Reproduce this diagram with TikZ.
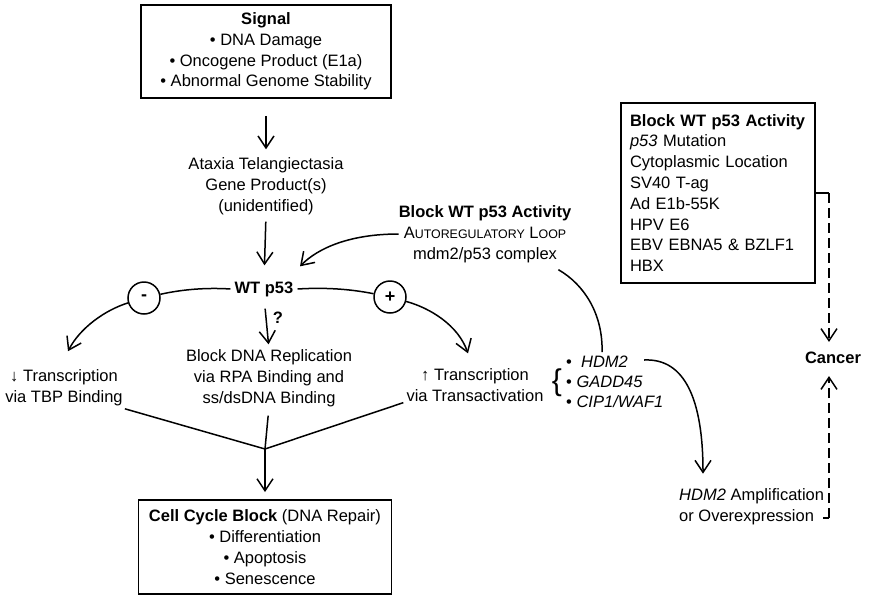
\documentclass[tikz,border=0pt]{standalone}
\usepackage{fontspec}
\setmainfont{Liberation Sans}
\usetikzlibrary{arrows.meta}
\newcommand{\fsc}[1]{{\fontsize{12.4}{12.4}\selectfont #1}}
\begin{document}
\begin{tikzpicture}[x=1pt,y=-1pt,
  every node/.style={font=\fontsize{16.5}{20.8}\selectfont, inner sep=0pt, align=center},
  box/.style={draw, line width=1.8pt},
  conn/.style={line width=1.5pt},
  arr/.style={conn, -{Straight Barb[length=12pt,width=16pt,line width=1.5pt]}},
  dsh/.style={dash pattern=on 10pt off 5pt},
  sign/.style={draw, circle, line width=1.5pt, minimum size=32pt, font=\fontsize{18}{18}\selectfont\bfseries},
  bold/.style={font=\fontsize{16.5}{20.8}\selectfont\bfseries}]
\useasboundingbox (0,0) rectangle (869,597);

% nodes
\node[box, minimum width=250pt, minimum height=93pt] (signal) at (266,51.5)
  {\textbf{Signal}\\• DNA Damage\\• Oncogene Product (E1a)\\• Abnormal Genome Stability};
\node (ataxia) at (266,186) {Ataxia Telangiectasia\\Gene Product(s)\\(unidentified)};
\node[bold] (wt) at (264,289) {WT p53};
\node[sign] (minus) at (144,298) {-};
\node[sign] (plus) at (390,297) {+};
\node[bold] (q) at (278,318) {?};
\node (leftT) at (64,387.5) {↓ Transcription\\via TBP Binding};
\node (midT) at (269,378) {Block DNA Replication\\via RPA Binding and\\ss/dsDNA Binding};
\node (rightT) at (475,385) {↑ Transcription\\via Transactivation};
\node (blockmid) at (485,234) {\textbf{Block WT p53 Activity}\\A\fsc{UTOREGULATORY} L\fsc{OOP}\\mdm2/p53 complex};
\node[font=\fontsize{30}{30}\selectfont] (brace) at (557,383) {\{};
\node[anchor=west] (hdm2) at (566,362) {•\ \ \textit{HDM2}};
\node[anchor=west] (gadd) at (566,382) {• \textit{GADD45}};
\node[anchor=west] (cip) at (566,402) {• \textit{CIP1/WAF1}};
\node[box, text width=176pt, align=left, inner xsep=9pt, minimum height=180pt] (rbox) at (718,193)
  {\textbf{Block WT p53 Activity}\\\textit{p53} Mutation\\Cytoplasmic Location\\SV40 T-ag\\Ad E1b-55K\\HPV E6\\EBV EBNA5 \& BZLF1\\HBX};
\node[bold] (cancer) at (833,358) {Cancer};
\node[anchor=west, align=left] (hdmamp) at (679,507) {\textit{HDM2} Amplification\\or Overexpression};
\node[box, minimum width=253pt, minimum height=94pt] (cell) at (265,547)
  {\textbf{Cell Cycle Block} (DNA Repair)\\• Differentiation\\• Apoptosis\\• Senescence};

\coordinate (j) at (265,449);
\coordinate (c1) at (829,193);
\coordinate (c2) at (829,518);

% connectors
\draw[arr, shorten <=17pt, shorten >=8pt] (signal.south) -- (ataxia.north);
\draw[arr, shorten <=7pt, shorten >=16pt] (ataxia.south) -- (wt.north);
\draw[arr, shorten <=12pt, shorten >=5pt] (wt.south) -- (midT.north);
\draw[arr] (blockmid.west) .. controls (350,234) and (318,248) .. ([xshift=36pt,yshift=15pt]wt.north);
\draw[conn] ([xshift=-4pt]wt.west) .. controls (200,287) and (175,291) .. (minus);
\draw[arr] (minus) .. controls (105,310) and (80,328) .. ([xshift=4pt,yshift=18pt]leftT.north);
\draw[conn] ([xshift=4pt]wt.east) .. controls (330,287) and (355,290) .. (plus);
\draw[arr] (plus) .. controls (430,308) and (458,325) .. ([xshift=-7pt,yshift=15pt]rightT.north);
\draw[conn] ([xshift=2pt,yshift=-3pt]leftT.south east) -- (j);
\draw[conn, shorten <=9pt] (midT.south) -- (j);
\draw[conn] ([xshift=-3pt,yshift=-1pt]rightT.south west) -- (j);
\draw[arr, shorten >=7pt] (j) -- (cell.north);
\draw[conn] ([xshift=-13pt,yshift=-7pt]blockmid.south east) .. controls (585,285) and (603,315) .. ([xshift=5pt,yshift=4pt]hdm2.north);
\draw[arr] ([xshift=16pt,yshift=2pt]hdm2.east) .. controls (685,358) and (703,400) .. ([xshift=24pt,yshift=15pt]hdmamp.north west);
\draw[conn] (rbox.east) -- (c1);
\draw[arr, dsh] (c1) -- ([yshift=10pt]cancer.north -| c1);
\draw[conn] ([xshift=-6pt]c2) -- (c2);
\draw[arr, dsh] (c2) -- ([yshift=-12pt]cancer.south -| c2);
\end{tikzpicture}
\end{document}
